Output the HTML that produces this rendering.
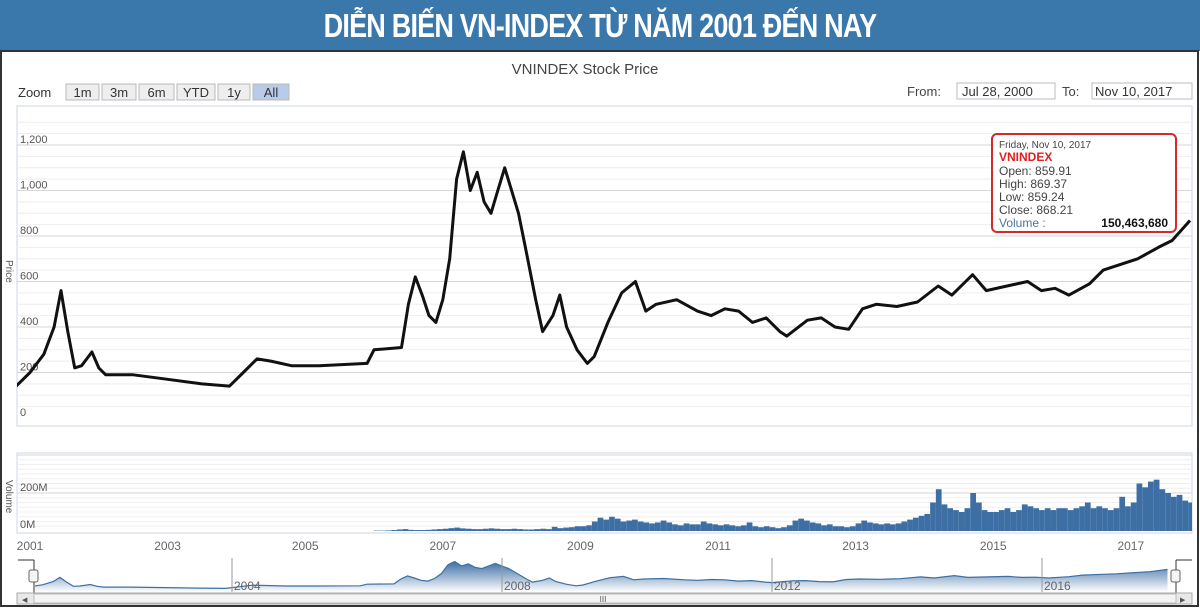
<!DOCTYPE html>
<html><head><meta charset="utf-8">
<style>
body{margin:0;width:1200px;height:608px;overflow:hidden;background:#fff;font-family:"Liberation Sans",sans-serif;}
#title{position:absolute;left:0;top:0;width:1200px;height:51px;background:#3a77ab;color:#fff;text-align:center;font:bold 33px/51px "Liberation Sans",sans-serif;letter-spacing:-1px;}
#title span{display:inline-block;transform:scaleX(0.82);transform-origin:center;white-space:nowrap;}
svg{position:absolute;left:0;top:0;}
</style></head><body>
<div id="title"><span>DIỄN BIẾN VN-INDEX TỪ NĂM 2001 ĐẾN NAY</span></div>
<svg id="c" width="1200" height="608"></svg>
<script>
const priceDates=[2000.57,2000.8,2001.0,2001.2,2001.35,2001.45,2001.55,2001.65,2001.75,2001.9,2002.0,2002.1,2002.5,2003.0,2003.5,2003.9,2004.1,2004.3,2004.5,2004.8,2005.2,2005.9,2006.0,2006.4,2006.5,2006.6,2006.7,2006.8,2006.9,2007.0,2007.1,2007.2,2007.3,2007.4,2007.5,2007.6,2007.7,2007.8,2007.9,2008.0,2008.1,2008.2,2008.35,2008.45,2008.6,2008.7,2008.8,2008.95,2009.1,2009.2,2009.4,2009.6,2009.8,2009.95,2010.1,2010.4,2010.7,2010.9,2011.1,2011.3,2011.5,2011.7,2011.9,2012.0,2012.3,2012.5,2012.7,2012.9,2013.1,2013.3,2013.6,2013.9,2014.2,2014.4,2014.7,2014.9,2015.2,2015.5,2015.7,2015.9,2016.1,2016.4,2016.6,2016.9,2017.1,2017.4,2017.6,2017.86];
const priceValues=[100,140,200,280,400,560,380,220,230,290,220,190,190,170,150,140,200,260,250,230,230,240,300,310,500,620,540,450,420,520,700,1050,1170,1000,1080,950,900,1000,1100,1000,900,750,520,380,450,540,400,300,240,270,420,550,600,470,500,520,470,450,480,470,420,440,380,360,430,440,400,390,480,500,490,510,580,540,630,560,580,600,560,570,540,590,650,680,700,750,780,868];
const volStart=2006.0;
const volValues=[2,2,3,5,8,10,6,5,5,6,8,10,12,15,18,14,12,10,10,12,14,12,10,10,12,10,8,8,10,12,10,22,15,18,20,25,25,30,50,70,60,75,65,50,55,60,50,45,40,45,55,45,35,30,40,35,35,50,40,35,30,35,30,25,30,45,25,20,25,20,15,20,30,55,65,55,45,40,30,35,25,25,20,25,40,55,45,40,35,40,35,40,50,60,70,80,90,150,220,140,120,110,100,120,200,150,110,100,100,110,120,100,110,140,130,120,110,120,110,120,120,110,120,130,150,120,130,120,110,120,180,130,150,250,230,260,270,220,200,180,190,160,150];
const priceTicks=[0,200,400,600,800,1000,1200];
const yearTicks=[2001,2003,2005,2007,2009,2011,2013,2015,2017];
const navYears=[2004,2008,2012,2016];

const NS='http://www.w3.org/2000/svg';
const svg=document.getElementById('c');
function el(t,a,p){const e=document.createElementNS(NS,t);for(const k in a)e.setAttribute(k,a[k]);(p||svg).appendChild(e);return e;}
const xS=t=>30+(t-2001)*68.8;
const yP=v=>418-v*0.2275;
const yV=v=>531-v*0.19;
const xN=t=>232+(t-2004)*67.5;
const yN=v=>592-v*0.026;

el('rect',{x:1,y:51,width:1197,height:555,fill:'none',stroke:'#333','stroke-width':2});
let t=el('text',{x:585,y:74,'font-size':15,fill:'#444','text-anchor':'middle'});t.textContent='VNINDEX Stock Price';

t=el('text',{x:18,y:97,'font-size':13,fill:'#333'});t.textContent='Zoom';
const zb=[['1m',66,33],['3m',102,34],['6m',139,35],['YTD',177,38],['1y',218,32],['All',253,36]];
zb.forEach(b=>{const g=el('g',{});

el('rect',{x:b[1],y:84,width:b[2],height:16,fill:b[0]=='All'?'#b8cbe8':'#eee',stroke:'#bbb'},g);
const tt=el('text',{x:b[1]+b[2]/2,y:97,'font-size':13,fill:'#333','text-anchor':'middle'},g);tt.textContent=b[0];});
t=el('text',{x:907,y:96,'font-size':13,fill:'#444'});t.textContent='From:';
let g=el('g',{});
el('rect',{x:957,y:83,width:98,height:16,fill:'#fff',stroke:'#bbb'},g);
t=el('text',{x:962,y:96,'font-size':13,fill:'#333'},g);t.textContent='Jul 28, 2000';
t=el('text',{x:1062,y:96,'font-size':13,fill:'#444'});t.textContent='To:';
g=el('g',{});
el('rect',{x:1092,y:83,width:100,height:16,fill:'#fff',stroke:'#bbb'},g);
t=el('text',{x:1095,y:96,'font-size':13,fill:'#333'},g);t.textContent='Nov 10, 2017';

el('rect',{x:17,y:106,width:1175,height:320,fill:'#fff',stroke:'#ccd6e6'});
for(let v=50;v<=1300;v+=50){const y=yP(v);if(y<108)break;el('line',{x1:17,x2:1192,y1:y,y2:y,stroke:v%200==0?'#d6d6d6':'#eeeeee'});}
priceTicks.forEach(v=>{const tx=el('text',{x:20,y:yP(v)-2,'font-size':11,fill:'#555'});tx.textContent=v.toLocaleString('en-US');
});
t=el('text',{x:6,y:260,'font-size':10,fill:'#555',transform:'rotate(90 6 260)'});t.textContent='Price';
el('clipPath',{id:'pc'}).appendChild(document.createElementNS(NS,'rect'));
const cr=document.querySelector('#pc rect');cr.setAttribute('x',17);cr.setAttribute('y',106);cr.setAttribute('width',1175);cr.setAttribute('height',320);
const pts=priceDates.map((d,i)=>xS(d).toFixed(1)+','+yP(priceValues[i]).toFixed(1)).join(' ');
const pl=el('polyline',{points:pts,fill:'none',stroke:'#111','stroke-width':3,'stroke-linejoin':'round','clip-path':'url(#pc)'});


g=el('g',{});
el('rect',{x:992,y:134,width:184,height:98,rx:5,fill:'#fff',stroke:'#d42a2a','stroke-width':2},g);
const tl=[['Friday, Nov 10, 2017',148,10,'#444','normal'],['VNINDEX',161,12,'#e02020','bold'],['Open: 859.91',175,12,'#444','normal'],['High: 869.37',188,12,'#444','normal'],['Low: 859.24',201,12,'#444','normal'],['Close: 868.21',214,12,'#444','normal']];
tl.forEach(l=>{const tx=el('text',{x:999,y:l[1],'font-size':l[2],fill:l[3],'font-weight':l[4]},g);tx.textContent=l[0];});
t=el('text',{x:999,y:227,'font-size':12,fill:'#4a73a8'},g);t.textContent='Volume :';
t=el('text',{x:1168,y:227,'font-size':12,fill:'#111','font-weight':'bold','text-anchor':'end'},g);t.textContent='150,463,680';

el('rect',{x:17,y:453,width:1175,height:80,fill:'#fff',stroke:'#ccd6e6'});
for(let v=25;v<=400;v+=25){const y=yV(v);if(y<455)break;el('line',{x1:17,x2:1192,y1:y,y2:y,stroke:v%200==0?'#d6d6d6':'#efefef'});}
t=el('text',{x:20,y:yV(200)-2,'font-size':11,fill:'#555'});t.textContent='200M';
t=el('text',{x:20,y:yV(0)-3,'font-size':11,fill:'#555'});t.textContent='0M';
t=el('text',{x:6,y:480,'font-size':10,fill:'#555',transform:'rotate(90 6 480)'});t.textContent='Volume';
volValues.forEach((v,i)=>{const x0=xS(volStart+i/12),x1=xS(volStart+(i+1)/12);
const r=el('rect',{x:x0,y:yV(v),width:Math.max(0,Math.min(x1,1192)-x0),height:yV(0)-yV(v),fill:'#3d6fa5'});
});
yearTicks.forEach(y=>{const tx=el('text',{x:xS(y),y:550,'font-size':12,fill:'#666','text-anchor':'middle'});tx.textContent=y;
});

g=el('g',{});
const grad=el('linearGradient',{id:'ng',x1:0,y1:0,x2:0,y2:1},el('defs',{},g));
el('stop',{offset:0,'stop-color':'#3d6fa5'},grad);el('stop',{offset:1,'stop-color':'#fff'},grad);
el('clipPath',{id:'nc'},g).appendChild(document.createElementNS(NS,'rect'));
const nr=document.querySelector('#nc rect');nr.setAttribute('x',35);nr.setAttribute('y',555);nr.setAttribute('width',1140);nr.setAttribute('height',37);
const npts=priceDates.map((d,i)=>xN(d).toFixed(1)+','+yN(priceValues[i]).toFixed(1));
el('polygon',{points:npts.join(' ')+' '+xN(2017.86)+',592 '+xN(2000.57)+',592',fill:'url(#ng)',stroke:'none','clip-path':'url(#nc)'},g);
el('polyline',{points:npts.join(' '),fill:'none',stroke:'#3d6fa5','stroke-width':1.2,'clip-path':'url(#nc)'},g);
navYears.forEach(y=>{el('line',{x1:xN(y),x2:xN(y),y1:558,y2:592,stroke:'#999'},g);
const tx=el('text',{x:xN(y)+2,y:590,'font-size':12,fill:'#666'},g);tx.textContent=y;});
el('line',{x1:18,x2:34,y1:560,y2:560,stroke:'#333'},g);el('line',{x1:34,x2:34,y1:560,y2:604,stroke:'#333'},g);
el('rect',{x:29,y:570,width:9,height:12,rx:2,fill:'#f4f4f4',stroke:'#666'},g);
el('line',{x1:1176,x2:1192,y1:560,y2:560,stroke:'#333'},g);el('line',{x1:1176,x2:1176,y1:560,y2:604,stroke:'#333'},g);
el('rect',{x:1171,y:570,width:9,height:12,rx:2,fill:'#f4f4f4',stroke:'#666'},g);
el('rect',{x:17,y:593,width:1175,height:11,fill:'#e8e8e8',stroke:'#aaa'},g);
el('rect',{x:34,y:594,width:1142,height:9,fill:'#f4f4f4',stroke:'#bbb'},g);
t=el('text',{x:603,y:602,'font-size':8,fill:'#555','text-anchor':'middle'},g);t.textContent='III';
t=el('text',{x:22,y:602,'font-size':7,fill:'#555'},g);t.textContent='◀';
t=el('text',{x:1180,y:602,'font-size':7,fill:'#555'},g);t.textContent='▶';
</script>
</body></html>
